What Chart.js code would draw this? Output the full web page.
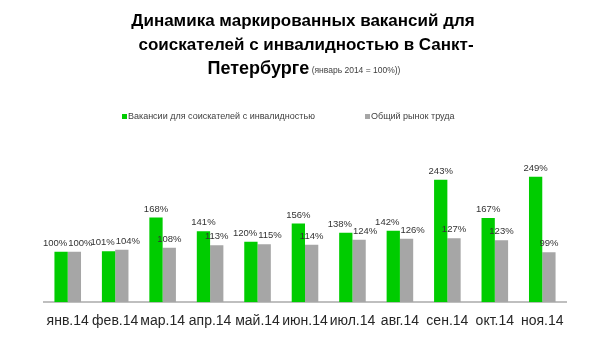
<!DOCTYPE html>
<html>
<head>
<meta charset="utf-8">
<script src="https://cdn.jsdelivr.net/npm/chart.js@4"></script>
<style>
  html, body { margin: 0; padding: 0; background: #ffffff; }
  #wrap { width: 605px; height: 355px; position: relative; }
</style>
</head>
<body>
<div id="wrap"><canvas id="c" width="605" height="355"></canvas></div>
<script>
// ---- data ----
const categories = ["янв.14","фев.14","мар.14","апр.14","май.14","июн.14","июл.14","авг.14","сен.14","окт.14","ноя.14"];
const disabledVacancies = [100, 101, 168, 141, 120, 156, 138, 142, 243, 167, 249];
const totalMarket = [100, 104, 108, 113, 115, 114, 124, 126, 127, 123, 99];
const seriesNames = ["Вакансии для соискателей с инвалидностью", "Общий рынок труда"];
const titleLines = ["Динамика маркированных вакансий для", "соискателей с инвалидностью в Санкт-"];
const titleLastMain = "Петербурге";
const titleLastNote = " (январь 2014 = 100%))";

const GREEN = "#00CC00";
const GREY = "#A6A6A6";
const TEXT = "#262626";

const titlePlugin = {
  id: "customTitle",
  afterDraw(chart) {
    const ctx = chart.ctx;
    ctx.save();
    ctx.fillStyle = "#000000";
    ctx.textBaseline = "alphabetic";
    ctx.textAlign = "center";
    const cx = 304;
    ctx.font = "bold 17px 'Liberation Sans', Arial, sans-serif";
    ctx.fillText(titleLines[0], cx - 1, 26);
    ctx.fillText(titleLines[1], cx + 2, 50);
    const bigFont = "bold 18px 'Liberation Sans', Arial, sans-serif";
    const smallFont = "8.5px 'Liberation Sans', Arial, sans-serif";
    ctx.font = bigFont;
    const w1 = ctx.measureText(titleLastMain).width;
    ctx.font = smallFont;
    const w2 = ctx.measureText(titleLastNote).width;
    let x0 = cx - (w1 + w2) / 2;
    ctx.textAlign = "left";
    ctx.font = bigFont;
    ctx.fillText(titleLastMain, x0, 74);
    ctx.font = smallFont;
    ctx.fillStyle = "#404040";
    ctx.fillText(titleLastNote, x0 + w1, 73);
    ctx.restore();
  }
};

const legendPlugin = {
  id: "customLegend",
  afterDraw(chart) {
    const ctx = chart.ctx;
    ctx.save();
    ctx.font = "9px 'Liberation Sans', Arial, sans-serif";
    ctx.textBaseline = "middle";
    ctx.textAlign = "left";
    const xs = [122, 365];
    chart.data.datasets.forEach((ds, i) => {
      ctx.fillStyle = ds.backgroundColor;
      ctx.fillRect(xs[i], 114, 5, 5);
      ctx.fillStyle = "#404040";
      ctx.fillText(ds.label, xs[i] + 6, 117);
    });
    ctx.restore();
  }
};

const valueLabelPlugin = {
  id: "valueLabels",
  afterDatasetsDraw(chart) {
    const ctx = chart.ctx;
    ctx.save();
    ctx.font = "9.5px 'Liberation Sans', Arial, sans-serif";
    ctx.fillStyle = "#333333";
    ctx.textAlign = "center";
    ctx.textBaseline = "alphabetic";
    const m0 = chart.getDatasetMeta(0), m1 = chart.getDatasetMeta(1);
    const d0 = chart.data.datasets[0].data, d1 = chart.data.datasets[1].data;
    const textH = 10;
    for (let i = 0; i < d0.length; i++) {
      const a = m0.data[i], b = m1.data[i];
      const ta = d0[i] + "%", tb = d1[i] + "%";
      let xa = a.x, xb = b.x;
      const ya = a.y - 6, yb = b.y - 6;
      if (Math.abs(ya - yb) < textH) {
        const need = (ctx.measureText(ta).width + ctx.measureText(tb).width) / 2 + 1;
        const gap = xb - xa;
        if (gap < need) {
          const push = (need - gap) / 2;
          xa -= push; xb += push;
        }
      }
      ctx.fillText(ta, xa, ya);
      ctx.fillText(tb, xb, yb);
    }
    ctx.restore();
  }
};

new Chart(document.getElementById("c"), {
  type: "bar",
  data: {
    labels: categories,
    datasets: [
      { label: seriesNames[0], data: disabledVacancies, backgroundColor: GREEN, borderWidth: 0 },
      { label: seriesNames[1], data: totalMarket, backgroundColor: GREY, borderWidth: 0 }
    ]
  },
  options: {
    responsive: false,
    animation: false,
    devicePixelRatio: 1,
    layout: { padding: { top: 151, left: 44, right: 39, bottom: 14 } },
    plugins: {
      legend: { display: false },
      title: { display: false },
      tooltip: { enabled: false }
    },
    datasets: { bar: { categoryPercentage: 0.56, barPercentage: 1.0 } },
    scales: {
      x: {
        grid: { display: false, drawTicks: false },
        border: { display: true, color: "#BFBFBF", width: 2 },
        ticks: { color: TEXT, font: { family: "'Liberation Sans', Arial, sans-serif", size: 14 }, padding: 11, maxRotation: 0, autoSkip: false }
      },
      y: {
        display: false,
        min: 0,
        max: 300
      }
    }
  },
  plugins: [titlePlugin, legendPlugin, valueLabelPlugin]
});
</script>
</body>
</html>
